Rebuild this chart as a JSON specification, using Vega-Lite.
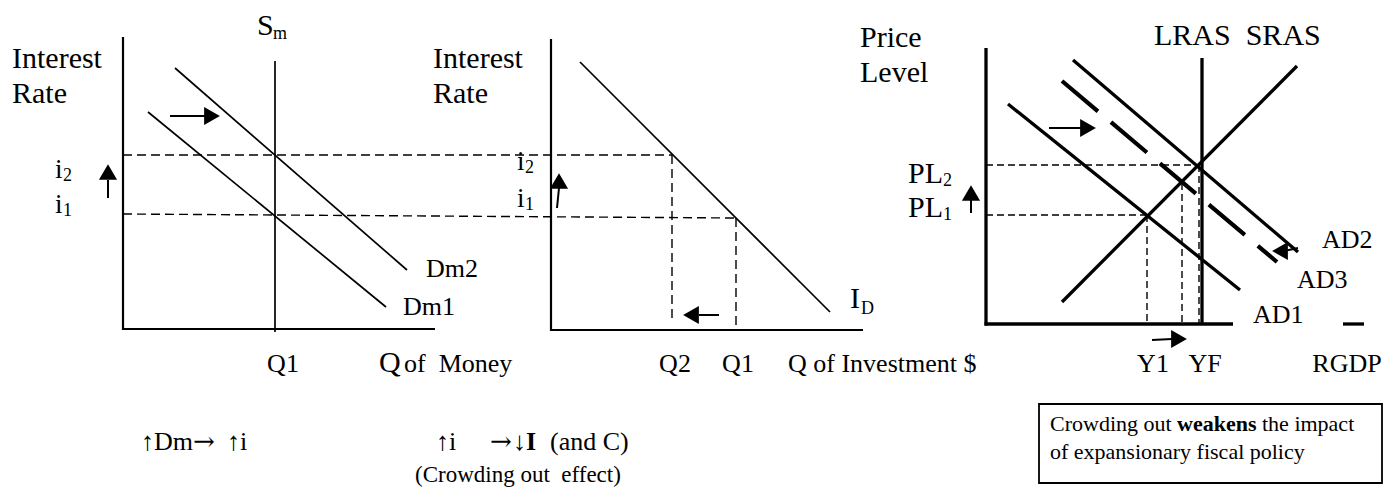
{
  "$schema": "https://vega.github.io/schema/vega-lite/v6.json",
  "width": 1383,
  "height": 490,
  "padding": 0,
  "autosize": {"type": "fit", "contains": "padding"},
  "background": "white",
  "config": {"view": {"stroke": null}, "text": {"font": "Liberation Serif"}},
  "datasets": {
    "segments": [
      {"x": 123, "y": 37, "x2": 123, "y2": 330, "kind": "axis"},
      {"x": 122, "y": 329, "x2": 435, "y2": 329, "kind": "axis"},
      {"x": 275, "y": 61, "x2": 275, "y2": 332, "kind": "thin"},
      {"x": 175, "y": 68, "x2": 407, "y2": 270, "kind": "thin"},
      {"x": 148, "y": 112, "x2": 386, "y2": 307, "kind": "thin"},
      {"x": 123, "y": 155, "x2": 672, "y2": 155, "kind": "dash"},
      {"x": 123, "y": 214, "x2": 736, "y2": 218, "kind": "dash"},
      {"x": 170, "y": 116, "x2": 206, "y2": 116, "kind": "shaft"},
      {"x": 108, "y": 198, "x2": 108, "y2": 180, "kind": "shaft"},
      {"x": 551, "y": 39, "x2": 551, "y2": 331, "kind": "axis"},
      {"x": 550, "y": 330, "x2": 863, "y2": 330, "kind": "axis"},
      {"x": 580, "y": 62, "x2": 830, "y2": 312, "kind": "thin"},
      {"x": 672, "y": 155, "x2": 672, "y2": 320, "kind": "dash"},
      {"x": 736, "y": 218, "x2": 736, "y2": 330, "kind": "dash"},
      {"x": 719, "y": 315, "x2": 699, "y2": 315, "kind": "shaft"},
      {"x": 557, "y": 208, "x2": 559, "y2": 188, "kind": "shaft"},
      {"x": 986, "y": 48, "x2": 986, "y2": 325.5, "kind": "thick"},
      {"x": 984.5, "y": 324, "x2": 1233, "y2": 324, "kind": "thick"},
      {"x": 1343, "y": 324, "x2": 1364, "y2": 324, "kind": "thick"},
      {"x": 1202, "y": 58, "x2": 1202, "y2": 324, "kind": "thick"},
      {"x": 1062, "y": 302, "x2": 1297, "y2": 66, "kind": "thick"},
      {"x": 1008, "y": 104, "x2": 1240, "y2": 290, "kind": "thick"},
      {"x": 1073, "y": 60, "x2": 1298, "y2": 252, "kind": "thick"},
      {"x": 1062, "y": 81, "x2": 1277, "y2": 262, "kind": "bigdash"},
      {"x": 986, "y": 165, "x2": 1200, "y2": 165, "kind": "dash3"},
      {"x": 986, "y": 215, "x2": 1147, "y2": 215, "kind": "dash3"},
      {"x": 1147, "y": 215, "x2": 1147, "y2": 324, "kind": "dash3"},
      {"x": 1182, "y": 183, "x2": 1182, "y2": 324, "kind": "dash3"},
      {"x": 1199, "y": 165, "x2": 1199, "y2": 324, "kind": "dash3"},
      {"x": 1049, "y": 128, "x2": 1082, "y2": 128, "kind": "shaft"},
      {"x": 971, "y": 213, "x2": 971, "y2": 197, "kind": "shaft"},
      {"x": 1152, "y": 340, "x2": 1172, "y2": 339, "kind": "shaft"},
      {"x": 1298, "y": 248, "x2": 1284, "y2": 251, "kind": "shaft"}
    ],
    "heads": [
      {"x": 212, "y": 116, "dir": "right"},
      {"x": 108, "y": 172, "dir": "up"},
      {"x": 559, "y": 181, "dir": "up"},
      {"x": 691, "y": 315, "dir": "left"},
      {"x": 1088, "y": 128, "dir": "right"},
      {"x": 971, "y": 193, "dir": "up"},
      {"x": 1179, "y": 339, "dir": "right"},
      {"x": 1280, "y": 251, "dir": "left"}
    ],
    "boxes": [
      {"x": 1039, "y": 404, "x2": 1382, "y2": 483}
    ],
    "labels": [
      {"x": 12, "y": 68, "text": "Interest", "role": "title"},
      {"x": 12, "y": 103, "text": "Rate", "role": "title"},
      {"x": 433, "y": 68, "text": "Interest", "role": "title"},
      {"x": 433, "y": 103, "text": "Rate", "role": "title"},
      {"x": 860, "y": 47, "text": "Price", "role": "title"},
      {"x": 860, "y": 82, "text": "Level", "role": "title"},
      {"x": 1154, "y": 45, "text": "LRAS\u00a0 SRAS", "role": "title"},
      {"x": 379, "y": 372, "text": "Q", "role": "title"},
      {"x": 257, "y": 35, "text": "S", "role": "title"},
      {"x": 850, "y": 308, "text": "I", "role": "title"},
      {"x": 908, "y": 183, "text": "PL", "role": "title"},
      {"x": 908, "y": 217, "text": "PL", "role": "title"},
      {"x": 55, "y": 178, "text": "i", "role": "ivar"},
      {"x": 55, "y": 213, "text": "i", "role": "ivar"},
      {"x": 517, "y": 170, "text": "i", "role": "ivar"},
      {"x": 517, "y": 207, "text": "i", "role": "ivar"},
      {"x": 63, "y": 181, "text": "2", "role": "sub"},
      {"x": 63, "y": 216, "text": "1", "role": "sub"},
      {"x": 525, "y": 173, "text": "2", "role": "sub"},
      {"x": 525, "y": 210, "text": "1", "role": "sub"},
      {"x": 273, "y": 39, "text": "m", "role": "sub"},
      {"x": 861, "y": 314, "text": "D", "role": "sub"},
      {"x": 943, "y": 186, "text": "2", "role": "sub"},
      {"x": 943, "y": 220, "text": "1", "role": "sub"},
      {"x": 283, "y": 372, "text": "Q1", "role": "center"},
      {"x": 675, "y": 372, "text": "Q2", "role": "center"},
      {"x": 738, "y": 372, "text": "Q1", "role": "center"},
      {"x": 1153, "y": 372, "text": "Y1", "role": "center"},
      {"x": 1205, "y": 372, "text": "YF", "role": "center"},
      {"x": 1347, "y": 372, "text": "RGDP", "role": "center"},
      {"x": 404, "y": 372, "text": "of\u00a0 Money", "role": "label"},
      {"x": 788, "y": 372, "text": "Q of Investment $", "role": "label"},
      {"x": 426, "y": 277, "text": "Dm2", "role": "label"},
      {"x": 403, "y": 315, "text": "Dm1", "role": "label"},
      {"x": 1322, "y": 248, "text": "AD2", "role": "label"},
      {"x": 1297, "y": 288, "text": "AD3", "role": "label"},
      {"x": 1253, "y": 323, "text": "AD1", "role": "label"},
      {"x": 141, "y": 450, "text": "↑Dm", "role": "note"},
      {"x": 204, "y": 450, "text": "→", "role": "glyph"},
      {"x": 227, "y": 450, "text": "↑i", "role": "note"},
      {"x": 436, "y": 450, "text": "↑i", "role": "note"},
      {"x": 501, "y": 450, "text": "→", "role": "glyph"},
      {"x": 513, "y": 450, "text": "↓I", "role": "notebold"},
      {"x": 550, "y": 450, "text": "(and C)", "role": "note"},
      {"x": 415, "y": 482, "text": "(Crowding out\u00a0 effect)", "role": "note2"},
      {"x": 1050, "y": 431, "text": "Crowding out", "role": "box"},
      {"x": 1177, "y": 431, "text": "weakens", "role": "boxbold"},
      {"x": 1262, "y": 431, "text": "the impact", "role": "box"},
      {"x": 1050, "y": 459, "text": "of expansionary fiscal policy", "role": "box"}
    ]
  },
  "encoding": {
    "x": {"field": "x", "type": "quantitative", "scale": {"domain": [0, 1383], "nice": false, "zero": false}, "axis": null},
    "y": {"field": "y", "type": "quantitative", "scale": {"domain": [0, 490], "nice": false, "zero": false, "reverse": true}, "axis": null}
  },
  "layer": [
    {"data": {"name": "boxes"}, "mark": {"type": "rect", "fill": "white", "stroke": "black", "strokeWidth": 1.8}, "encoding": {"x2": {"field": "x2"}, "y2": {"field": "y2"}}},
    {"data": {"name": "segments"}, "transform": [{"filter": "datum.kind === 'dash'"}], "mark": {"type": "rule", "color": "black", "strokeWidth": 1.4, "strokeDash": [9, 5]}, "encoding": {"x2": {"field": "x2"}, "y2": {"field": "y2"}}},
    {"data": {"name": "segments"}, "transform": [{"filter": "datum.kind === 'dash3'"}], "mark": {"type": "rule", "color": "black", "strokeWidth": 1.4, "strokeDash": [7, 4]}, "encoding": {"x2": {"field": "x2"}, "y2": {"field": "y2"}}},
    {"data": {"name": "segments"}, "transform": [{"filter": "datum.kind === 'thin'"}], "mark": {"type": "rule", "color": "black", "strokeWidth": 1.7}, "encoding": {"x2": {"field": "x2"}, "y2": {"field": "y2"}}},
    {"data": {"name": "segments"}, "transform": [{"filter": "datum.kind === 'axis'"}], "mark": {"type": "rule", "color": "black", "strokeWidth": 2.2}, "encoding": {"x2": {"field": "x2"}, "y2": {"field": "y2"}}},
    {"data": {"name": "segments"}, "transform": [{"filter": "datum.kind === 'shaft'"}], "mark": {"type": "rule", "color": "black", "strokeWidth": 2}, "encoding": {"x2": {"field": "x2"}, "y2": {"field": "y2"}}},
    {"data": {"name": "segments"}, "transform": [{"filter": "datum.kind === 'thick'"}], "mark": {"type": "rule", "color": "black", "strokeWidth": 3.3}, "encoding": {"x2": {"field": "x2"}, "y2": {"field": "y2"}}},
    {"data": {"name": "segments"}, "transform": [{"filter": "datum.kind === 'bigdash'"}], "mark": {"type": "rule", "color": "black", "strokeWidth": 4.2, "strokeDash": [47, 17]}, "encoding": {"x2": {"field": "x2"}, "y2": {"field": "y2"}}},
    {"data": {"name": "heads"}, "mark": {"type": "point", "filled": true, "color": "black", "opacity": 1, "size": 330, "strokeWidth": 0}, "encoding": {"shape": {"field": "dir", "type": "nominal", "scale": {"domain": ["right", "left", "up"], "range": ["triangle-right", "triangle-left", "triangle-up"]}, "legend": null}}},
    {"data": {"name": "labels"}, "transform": [{"filter": "datum.role === 'title'"}], "mark": {"type": "text", "fontSize": 30, "align": "left", "baseline": "alphabetic", "color": "black"}, "encoding": {"text": {"field": "text"}}},
    {"data": {"name": "labels"}, "transform": [{"filter": "datum.role === 'ivar'"}], "mark": {"type": "text", "fontSize": 27, "align": "left", "baseline": "alphabetic", "color": "black"}, "encoding": {"text": {"field": "text"}}},
    {"data": {"name": "labels"}, "transform": [{"filter": "datum.role === 'sub'"}], "mark": {"type": "text", "fontSize": 18, "align": "left", "baseline": "alphabetic", "color": "black"}, "encoding": {"text": {"field": "text"}}},
    {"data": {"name": "labels"}, "transform": [{"filter": "datum.role === 'center'"}], "mark": {"type": "text", "fontSize": 26, "align": "center", "baseline": "alphabetic", "color": "black"}, "encoding": {"text": {"field": "text"}}},
    {"data": {"name": "labels"}, "transform": [{"filter": "datum.role === 'label'"}], "mark": {"type": "text", "fontSize": 26, "align": "left", "baseline": "alphabetic", "color": "black"}, "encoding": {"text": {"field": "text"}}},
    {"data": {"name": "labels"}, "transform": [{"filter": "datum.role === 'note'"}], "mark": {"type": "text", "fontSize": 26, "align": "left", "baseline": "alphabetic", "color": "black"}, "encoding": {"text": {"field": "text"}}},
    {"data": {"name": "labels"}, "transform": [{"filter": "datum.role === 'note2'"}], "mark": {"type": "text", "fontSize": 23, "align": "left", "baseline": "alphabetic", "color": "black"}, "encoding": {"text": {"field": "text"}}},
    {"data": {"name": "labels"}, "transform": [{"filter": "datum.role === 'glyph'"}], "mark": {"type": "text", "fontSize": 26, "align": "center", "baseline": "alphabetic", "color": "black", "font": "DejaVu Serif"}, "encoding": {"text": {"field": "text"}}},
    {"data": {"name": "labels"}, "transform": [{"filter": "datum.role === 'notebold'"}], "mark": {"type": "text", "fontSize": 26, "fontWeight": "bold", "align": "left", "baseline": "alphabetic", "color": "black"}, "encoding": {"text": {"field": "text"}}},
    {"data": {"name": "labels"}, "transform": [{"filter": "datum.role === 'box'"}], "mark": {"type": "text", "fontSize": 22, "align": "left", "baseline": "alphabetic", "color": "black"}, "encoding": {"text": {"field": "text"}}},
    {"data": {"name": "labels"}, "transform": [{"filter": "datum.role === 'boxbold'"}], "mark": {"type": "text", "fontSize": 22, "fontWeight": "bold", "align": "left", "baseline": "alphabetic", "color": "black"}, "encoding": {"text": {"field": "text"}}}
  ]
}
